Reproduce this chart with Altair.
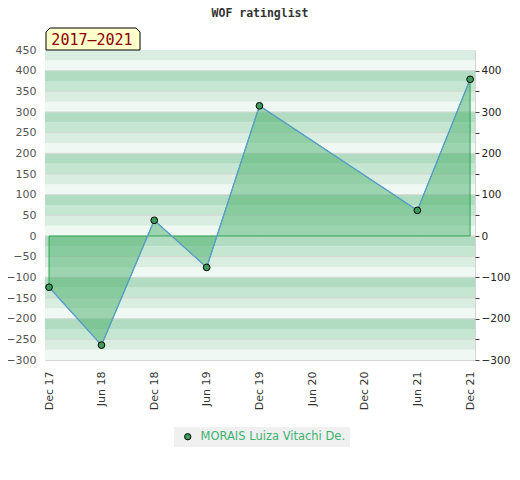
import altair as alt
import pandas as pd

# ---- data ----
dates = ["2017-12-01", "2018-06-01", "2018-12-01", "2019-06-01",
         "2019-12-01", "2021-06-01", "2021-12-01"]
ratings = [-124, -264, 38, -76, 315, 62, 379]
player_name = "MORAIS Luiza Vitachi De."
tick_dates = ["2017-12-01", "2018-06-01", "2018-12-01", "2019-06-01", "2019-12-01",
              "2020-06-01", "2020-12-01", "2021-06-01", "2021-12-01"]
left_ticks = list(range(-300, 451, 50))
right_ticks = list(range(-300, 401, 50))
title_text = "WOF ratinglist"
period_text = "2017–2021"


def ms(d):
    return int(pd.Timestamp(d, tz="UTC").value // 10**6)


df = pd.DataFrame({"date": dates, "rating": ratings,
                   "player": [player_name] * len(dates)})

# background stripes (decoration)
band_colors = {0: "#b2dcc1", 75: "#c5e6d0", 50: "#d9eee1", 25: "#eff8f2"}
bands = pd.DataFrame([{"lo": t - 25, "hi": t, "shade": band_colors[t % 100]}
                      for t in range(-275, 451, 25)])
grid_df = pd.DataFrame({"g": list(range(-250, 401, 50))})

yscale = alt.Scale(domain=[-300, 450], nice=False, zero=False)
yaxis = alt.Axis(values=left_ticks, title=None, ticks=False, domain=False, grid=False,
                 labelPadding=9, labelColor="#555", labelFontSize=11,
                 labelFont="DejaVu Sans", labelOverlap=False)
xscale = alt.Scale(type="utc", domain=[ms("2017-11-17"), ms("2021-12-18")])
xaxis = alt.Axis(values=[ms(d) for d in tick_dates],
                 labelExpr="utcFormat(datum.value, '%b %y')",
                 labelAngle=270, ticks=False, domain=False, grid=False, labelPadding=11,
                 labelColor="#333", labelFontSize=11, labelFont="DejaVu Sans",
                 labelFlush=False, labelOverlap=False, title=None)
X = alt.X("date:T", scale=xscale, axis=xaxis)
Y = alt.Y("rating:Q", scale=yscale, axis=yaxis)

bands_layer = alt.Chart(bands).mark_rect().encode(
    x=alt.value(0), x2=alt.value("width"),
    y=alt.Y("lo:Q", scale=yscale, axis=yaxis), y2="hi:Q",
    fill=alt.Fill("shade:N", scale=None))

grid_layer = alt.Chart(grid_df).mark_rule(color="#d6d6d6", strokeWidth=1).encode(
    x=alt.value(0), x2=alt.value("width"),
    y=alt.Y("g:Q", scale=yscale, axis=yaxis))

area_layer = alt.Chart(df).mark_area(fill="#4caf6e", fillOpacity=0.5,
                                     stroke="#27a84f", strokeWidth=1).encode(
    x=X, y=Y, y2=alt.datum(0))

line_layer = alt.Chart(df).mark_line(color="#5b9bd5", strokeWidth=1.2).encode(x=X, y=Y)

point_layer = alt.Chart(df).mark_point(filled=True, size=45, stroke="black",
                                       strokeWidth=1, opacity=1).encode(
    x=X, y=Y,
    color=alt.Color("player:N", scale=alt.Scale(domain=[player_name], range=["#3d9c5c"]),
                    legend=alt.Legend(orient="none", legendX=129, legendY=377, title=None,
                                      fillColor="#f0f0f0", padding=4, symbolOffset=4,
                                      labelOffset=7,
                                      labelColor="#3cb371", labelFontSize=11.5,
                                      labelFont="DejaVu Sans", symbolType="circle",
                                      symbolSize=40, symbolStrokeColor="black",
                                      symbolStrokeWidth=1, symbolOpacity=1)))

box_path = "M-1,0.234L-1,-0.149L-0.915,-0.234L0.915,-0.234L1,-0.149L1,0.234Z"
label_data = alt.Data(values=[{"t": period_text}])
box_layer = alt.Chart(label_data).mark_point(
    shape=box_path, size=94 * 94, filled=True, fill="#ffffcc", stroke="black",
    strokeWidth=1, opacity=1).encode(x=alt.value(48), y=alt.value(-11))
box_text = alt.Chart(label_data).mark_text(
    font="DejaVu Sans Mono", fontSize=15, color="#8b0000", align="center",
    baseline="middle").encode(x=alt.value(47), y=alt.value(-10), text="t:N")

inner = alt.layer(bands_layer, grid_layer, area_layer, line_layer, point_layer,
                  box_layer, box_text)

right_layer = alt.Chart(df).mark_point(opacity=0).encode(
    x=X,
    y=alt.Y("rating:Q", scale=yscale,
            axis=alt.Axis(orient="right", values=right_ticks,
                          labelExpr="datum.value % 100 == 0 ? datum.label : ''",
                          title=None, domain=False, tickSize=4, tickColor="#444",
                          labelColor="#222", labelPadding=2, labelFontSize=10.5,
                          labelFont="DejaVu Sans", grid=False, labelOverlap=False)))

chart = alt.layer(inner, right_layer).resolve_scale(y="independent").properties(
    width=430, height=310,
    title=alt.TitleParams(text=title_text, font="DejaVu Sans Mono", fontSize=11.5,
                          fontWeight="bold", color="#333", frame="group", dy=-3),
    padding={"left": 37, "top": 42, "right": 37, "bottom": 100},
    autosize="none",
).configure_view(stroke="#d4d4d4")

chart.save("out.html", embed_options={"renderer": "svg", "actions": False})
